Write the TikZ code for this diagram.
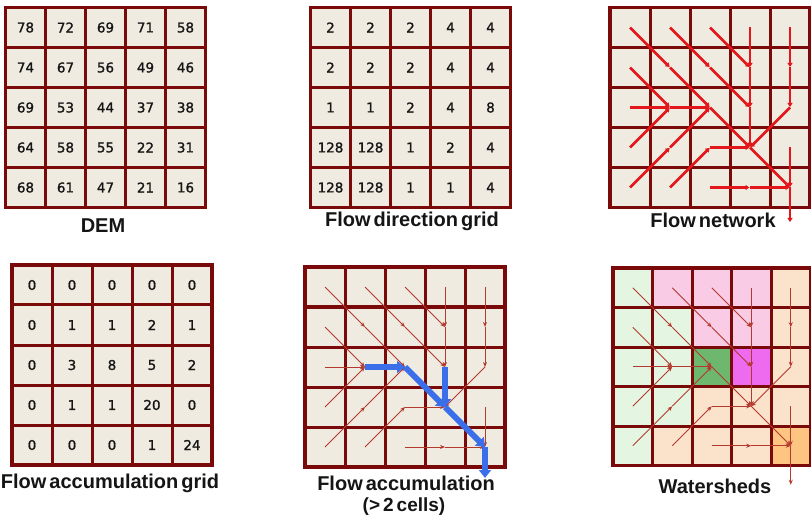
\documentclass[tikz,border=0pt]{standalone}
\usepackage{fontspec}
\setmainfont{Liberation Sans}
\newfontfamily\numfont[FakeBold=1.2]{DejaVu Sans}
\usetikzlibrary{arrows.meta}
\definecolor{gridred}{HTML}{7A0A0A}
\definecolor{cellbg}{HTML}{EFEBE0}
\definecolor{netred}{HTML}{E3161B}
\definecolor{thinred}{HTML}{B3392F}
\definecolor{flowblue}{HTML}{3B6FEA}
\definecolor{txt}{HTML}{151515}
\definecolor{wg}{HTML}{E4F6E1}
\definecolor{wp}{HTML}{F9CBE4}
\definecolor{wo}{HTML}{FBE2CB}
\definecolor{wd}{HTML}{6DB76E}
\definecolor{wm}{HTML}{EE6BEF}
\definecolor{wy}{HTML}{FDC581}
\newcommand\tightwords{\spaceskip=3pt plus 1pt minus 0.5pt\relax}
\tikzset{
  gridline/.style={draw=gridred, line width=3pt},
  gridborder/.style={draw=gridred, line width=3.5pt, line join=miter},
  num/.style={font=\numfont\fontsize{13.5}{14}\selectfont, text=txt, inner sep=0pt},
  lab/.style={font=\bfseries\fontsize{20}{22}\selectfont\tightwords, text=txt, inner sep=0pt, anchor=base},
  sublab/.style={font=\bfseries\fontsize{19}{21}\selectfont\tightwords, text=txt, inner sep=0pt, anchor=base},
  netarrow/.style={draw=netred, line width=2.6pt, -{Triangle[length=4pt,width=5pt]}, shorten >=0.5pt},
  thinarrow/.style={draw=thinred, line width=1pt, -{Stealth[length=5pt,width=4pt]}},
  bluearrow/.style={draw=flowblue, line width=6pt, -{Triangle[length=8pt,width=12pt]}}
}
\newcommand\gisgrid[5]{%
  \path[fill=#5] (#2,#3) rectangle ++(5*#4,5*#4);
  \foreach \i in {1,...,4}{
    \draw[gridline] ({#2+\i*#4},#3) -- ++(0,5*#4);
    \draw[gridline] (#2,{#3+\i*#4}) -- ++(5*#4,0);}
  \draw[gridborder] (#2,#3) rectangle ++(5*#4,5*#4);
  \foreach \r in {0,...,4}{\foreach \c in {0,...,4}{
    \coordinate (#1-\r-\c) at ({#2+(\c+0.5)*#4},{#3+(\r+0.5)*#4});}}
}
\newcommand\gisnums[2]{%
  \foreach \row [count=\r from 0] in {#2}{
    \foreach \v [count=\c from 0] in \row {
      \node[num] (#1-n-\r-\c) at (#1-\r-\c) {\v};}}
}
\def\edgelist{0-0/1-1, 0-1/1-2, 0-2/1-3, 0-3/1-3, 0-4/1-4, 1-0/2-1, 1-1/2-2, 1-2/2-3, 1-3/2-3, 1-4/2-4, 2-0/2-1, 2-1/2-2, 2-2/3-3, 2-3/3-3, 2-4/3-3, 3-0/2-1, 3-1/2-2, 3-2/3-3, 3-3/4-4, 3-4/4-4, 4-0/3-1, 4-1/3-2, 4-2/4-3, 4-3/4-4}
\begin{document}
\begin{tikzpicture}[x=1pt,y=-1pt]
\useasboundingbox[fill=white] (0,0) rectangle (811,521);

% DEM
\gisgrid{dem}{5.5}{7.5}{40}{cellbg}
\gisnums{dem}{{78,72,69,71,58},{74,67,56,49,46},{69,53,44,37,38},{64,58,55,22,31},{68,61,47,21,16}}
\node[lab] (l-dem) at (103,233) {DEM};

% Flow direction grid
\gisgrid{fd}{310.5}{7.5}{40}{cellbg}
\gisnums{fd}{{2,2,2,4,4},{2,2,2,4,4},{1,1,2,4,8},{128,128,1,2,4},{128,128,1,1,4}}
\node[lab] (l-fd) at (412,227) {Flow direction grid};

% Flow network
\gisgrid{fn}{610}{7.5}{40}{cellbg}
\coordinate (fn-out) at ([yshift=-35pt]fn-4-4);
\foreach \a/\b in \edgelist {\draw[netarrow] (fn-\a) -- (fn-\b);}
\draw[netarrow] (fn-4-4) -- (fn-out);
\node[lab] (l-fn) at (713,228) {Flow network};

% Flow accumulation grid
\gisgrid{fag}{12}{265}{40}{cellbg}
\gisnums{fag}{{0,0,0,0,0},{0,1,1,2,1},{0,3,8,5,2},{0,1,1,20,0},{0,0,0,1,24}}
\node[lab] (l-fag) at (110,488) {Flow accumulation grid};

% Flow accumulation (> 2 cells)
\gisgrid{fa}{305}{267}{40}{cellbg}
\foreach \a/\b in \edgelist {\draw[thinarrow] (fa-\a) -- (fa-\b);}
\coordinate (fa-out) at ([yshift=-31pt]fa-4-4);
\draw[bluearrow] (fa-2-1) -- (fa-2-2);
\draw[bluearrow] (fa-2-2) -- (fa-3-3);
\draw[bluearrow] (fa-2-3) -- (fa-3-3);
\draw[bluearrow] (fa-3-3) -- (fa-4-4);
\draw[bluearrow] (fa-4-4) -- (fa-out);
\node[lab] (l-fa) at (406,490) {Flow accumulation};
\node[sublab] (l-fa2) at (404,511) {(> 2 cells)};

% Watersheds
\foreach \row [count=\r from 0] in {{wg,wp,wp,wp,wo},{wg,wg,wp,wp,wo},{wg,wg,wd,wm,wo},{wg,wg,wo,wo,wo},{wg,wo,wo,wo,wy}}{
  \foreach \col [count=\c from 0] in \row {
    \fill[\col] ({613+\c*39.5},{268+\r*39.5}) rectangle ++(39.5,39.5);}}
\gisgrid{ws}{613}{268}{39.5}{none}
\foreach \a/\b in \edgelist {\draw[thinarrow] (ws-\a) -- (ws-\b);}
\coordinate (ws-out) at ([yshift=-39pt]ws-4-4);
\draw[thinarrow] (ws-4-4) -- (ws-out);
\node[lab] (l-ws) at (715,493) {Watersheds};
\end{tikzpicture}
\end{document}
